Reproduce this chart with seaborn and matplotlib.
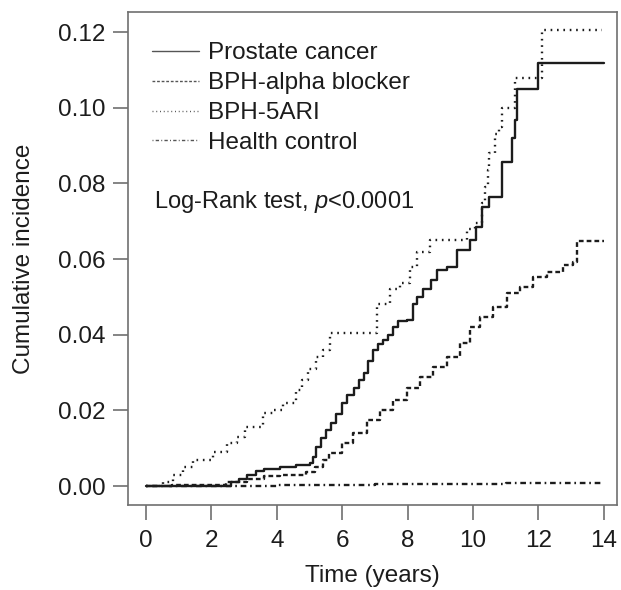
import matplotlib
matplotlib.use("Agg")
import matplotlib.pyplot as plt
import seaborn as sns
import pandas as pd

# step curves (time in years, cumulative incidence)
prostate_t = [0, 2.6, 2.85, 3.1, 3.35, 3.6, 4.1, 4.6, 5.0, 5.1, 5.2, 5.35, 5.5, 5.65,
              5.8, 6.0, 6.15, 6.35, 6.5, 6.65, 6.8, 6.95, 7.1, 7.25, 7.4, 7.55, 7.7,
              7.98, 8.17, 8.3, 8.47, 8.7, 8.9, 9.2, 9.5, 9.9, 10.1, 10.27, 10.5, 10.88,
              11.2, 11.28, 11.35, 12.0, 14.0]
prostate_y = [0, 0.001, 0.002, 0.003, 0.004, 0.0045, 0.005, 0.0057, 0.006, 0.0077,
              0.0103, 0.0126, 0.0148, 0.0166, 0.019, 0.022, 0.024, 0.026, 0.028, 0.030,
              0.033, 0.036, 0.0375, 0.0386, 0.040, 0.042, 0.0435, 0.0439, 0.048,
              0.050, 0.052, 0.0545, 0.057, 0.058, 0.0625, 0.065, 0.0685, 0.0737, 0.0764,
              0.0857, 0.092, 0.0967, 0.105, 0.1117, 0.1117]

alpha_t = [0, 0.8, 2.45, 3.1, 3.6, 4.1, 4.9, 5.17, 5.4, 5.6, 6.0, 6.33, 6.75, 7.15,
           7.55, 7.98, 8.38, 8.77, 9.2, 9.6, 9.9, 10.2, 10.6, 11.04, 11.43, 11.83,
           12.26, 12.75, 13.05, 13.18, 14.0]
alpha_y = [0, 0.0003, 0.001, 0.002, 0.0026, 0.003, 0.0037, 0.005, 0.0069, 0.0087,
           0.0114, 0.014, 0.0174, 0.020, 0.0227, 0.026, 0.0288, 0.0315, 0.034, 0.0378,
           0.042, 0.0447, 0.0473, 0.051, 0.0526, 0.0553, 0.0566, 0.0584, 0.0592,
           0.0648, 0.0648]

ari_t = [0, 0.52, 0.83, 1.13, 1.44, 2.05, 2.47, 2.78, 3.03, 3.58, 3.88, 4.19, 4.6,
         4.77, 4.95, 5.2, 5.4, 5.63, 7.06, 7.46, 7.77, 8.07, 8.28, 8.68, 9.8, 10.06,
         10.27, 10.36, 10.45, 10.5, 10.67, 10.8, 10.88, 11.28, 12.1, 13.95]
ari_y = [0, 0.001, 0.003, 0.005, 0.0069, 0.009, 0.0113, 0.013, 0.0155, 0.0193, 0.020,
         0.022, 0.0254, 0.028, 0.031, 0.034, 0.036, 0.0404, 0.048, 0.052, 0.0536,
         0.058, 0.062, 0.065, 0.068, 0.0695, 0.0748, 0.079, 0.0835, 0.088, 0.093,
         0.095, 0.100, 0.1078, 0.1205, 0.1205]

control_t = [0, 2.5, 4.0, 5.5, 7.0, 9.0, 11.0, 14.0]
control_y = [0, 0.0001, 0.0002, 0.0004, 0.0005, 0.0006, 0.0007, 0.0008]

labels = ["Prostate cancer", "BPH-alpha blocker", "BPH-5ARI", "Health control"]
x_ticks = [0, 2, 4, 6, 8, 10, 12, 14]
y_ticks = [0.00, 0.02, 0.04, 0.06, 0.08, 0.10, 0.12]

sns.set_style("white")
plt.rcParams["font.family"] = ["Liberation Sans", "DejaVu Sans"]
plt.rcParams["mathtext.fontset"] = "custom"
plt.rcParams["mathtext.rm"] = "Liberation Sans"
plt.rcParams["mathtext.it"] = "Liberation Sans:italic"

ink = "#1c1c1c"
frame = "#707070"
fs = 17.5

fig = plt.figure(figsize=(6.21, 5.90), dpi=100)
ax = fig.add_axes([128 / 621, 85 / 590, 489 / 621, 493 / 590])

series = [
    (prostate_t, prostate_y, "-"),
    (alpha_t, alpha_y, (0, (2.0, 1.3))),
    (ari_t, ari_y, (0, (0.7, 2.0))),
    (control_t, control_y, (0, (0.7, 1.6, 2.4, 1.6))),
]
for (t, y, ls), lab in zip(series, labels):
    df = pd.DataFrame({"time": t, "inc": y})
    sns.lineplot(data=df, x="time", y="inc", ax=ax, drawstyle="steps-post",
                 estimator=None, sort=False, color=ink, linestyle=ls,
                 linewidth=1.7, label=lab)

ax.set_xlim(-0.55, 14.4)
ax.set_ylim(-0.0050, 0.1253)
ax.set_xticks(x_ticks)
ax.set_xticklabels([str(v) for v in x_ticks])
ax.set_yticks(y_ticks)
ax.set_yticklabels([f"{v:.2f}" for v in y_ticks])

for s in ax.spines.values():
    s.set_visible(True)
    s.set_color(frame)
    s.set_linewidth(1.2)
ax.tick_params(axis="both", direction="out", length=11, width=1.2, color=frame,
               labelsize=17.5, labelcolor=ink, left=True, bottom=True)
ax.tick_params(axis="y", pad=5)
ax.tick_params(axis="x", pad=7)

ax.set_xlabel("Time (years)", fontsize=fs, color=ink)
ax.set_ylabel("Cumulative incidence", fontsize=fs, color=ink)
ax.xaxis.set_label_coords(0.5, -0.121)
ax.yaxis.set_label_coords(-0.19, 0.5)

leg = ax.legend(loc="upper left", bbox_to_anchor=(0.03, 0.958), frameon=False,
                fontsize=fs, handlelength=1.9, handletextpad=0.4,
                labelspacing=0.32, borderaxespad=0)
for ln in leg.get_lines():
    ln.set_linewidth(1.0)
    ln.set_color("#555555")
for txt in leg.get_texts():
    txt.set_color(ink)

ax.text(0.053, 0.615, r"Log-Rank test, $p$<0.0001", transform=ax.transAxes,
        fontsize=17, color=ink, va="center", ha="left")

fig.savefig("out.png", dpi=100)
